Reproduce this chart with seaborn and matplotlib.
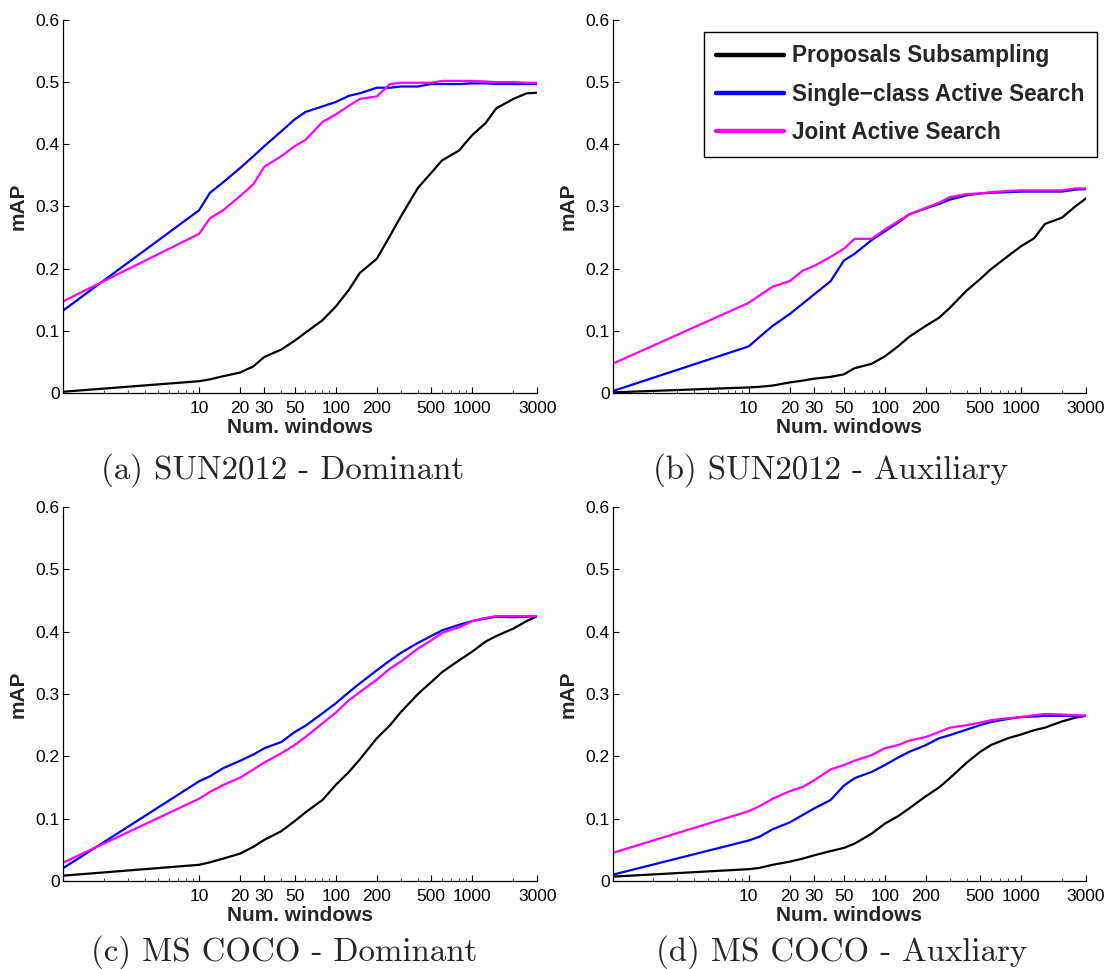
import numpy as np
import pandas as pd
import matplotlib
matplotlib.use("Agg")
import matplotlib.pyplot as plt
from matplotlib.ticker import FixedLocator, LogLocator, NullFormatter
import seaborn as sns

# ---------------- data ----------------
windows = [1, 10, 12, 15, 20, 25, 30, 40, 50, 60, 80, 100, 125, 150, 200, 250,
           300, 400, 500, 600, 800, 1000, 1250, 1500, 2000, 2500, 3000]

methods = ["Proposals Subsampling", "Single\u2212class Active Search", "Joint Active Search"]
colors = ["#000000", "#0000ff", "#ff00ff"]

# (a) SUN2012 - Dominant
a_prop = [0.002, 0.019, 0.022, 0.027, 0.033, 0.043, 0.058, 0.070, 0.084, 0.097, 0.117, 0.139, 0.166, 0.193,
          0.216, 0.253, 0.284, 0.330, 0.354, 0.374, 0.390, 0.415, 0.434, 0.458, 0.473, 0.482, 0.483]
a_single = [0.132, 0.294, 0.322, 0.339, 0.362, 0.381, 0.397, 0.421, 0.440, 0.452, 0.461, 0.468, 0.478, 0.482,
            0.491, 0.491, 0.493, 0.493, 0.497, 0.497, 0.497, 0.498, 0.498, 0.497, 0.497, 0.497, 0.497]
a_joint = [0.147, 0.256, 0.281, 0.294, 0.317, 0.336, 0.364, 0.381, 0.397, 0.407, 0.436, 0.448, 0.462, 0.473,
           0.477, 0.497, 0.499, 0.499, 0.499, 0.502, 0.502, 0.502, 0.501, 0.500, 0.500, 0.499, 0.499]

# (b) SUN2012 - Auxiliary
b_prop = [0.001, 0.009, 0.010, 0.012, 0.017, 0.020, 0.023, 0.026, 0.030, 0.040, 0.047, 0.059, 0.075, 0.090,
          0.108, 0.121, 0.137, 0.165, 0.183, 0.199, 0.220, 0.236, 0.249, 0.272, 0.282, 0.300, 0.313]
b_single = [0.003, 0.075, 0.090, 0.108, 0.127, 0.144, 0.158, 0.180, 0.213, 0.224, 0.246, 0.260, 0.274, 0.287,
            0.297, 0.304, 0.311, 0.318, 0.321, 0.322, 0.323, 0.324, 0.324, 0.324, 0.324, 0.327, 0.328]
b_joint = [0.047, 0.145, 0.157, 0.171, 0.180, 0.197, 0.204, 0.219, 0.232, 0.248, 0.248, 0.263, 0.276, 0.287,
           0.298, 0.306, 0.315, 0.320, 0.321, 0.323, 0.325, 0.326, 0.326, 0.326, 0.326, 0.329, 0.329]

# (c) MS COCO - Dominant
c_prop = [0.0085, 0.026, 0.030, 0.036, 0.044, 0.055, 0.066, 0.080, 0.096, 0.110, 0.130, 0.154, 0.175, 0.195,
          0.229, 0.250, 0.271, 0.300, 0.319, 0.335, 0.354, 0.368, 0.384, 0.393, 0.405, 0.417, 0.425]
c_single = [0.020, 0.160, 0.168, 0.181, 0.193, 0.203, 0.213, 0.223, 0.239, 0.249, 0.269, 0.285, 0.303, 0.317,
            0.338, 0.354, 0.366, 0.382, 0.393, 0.402, 0.411, 0.417, 0.421, 0.424, 0.423, 0.424, 0.425]
c_joint = [0.029, 0.132, 0.143, 0.154, 0.166, 0.179, 0.190, 0.205, 0.218, 0.231, 0.253, 0.270, 0.290, 0.303,
           0.323, 0.341, 0.352, 0.373, 0.386, 0.398, 0.407, 0.417, 0.422, 0.425, 0.425, 0.425, 0.425]

# (d) MS COCO - Auxliary
d_prop = [0.007, 0.019, 0.021, 0.026, 0.031, 0.036, 0.041, 0.048, 0.053, 0.060, 0.076, 0.092, 0.104, 0.116,
          0.136, 0.150, 0.165, 0.190, 0.207, 0.218, 0.229, 0.235, 0.242, 0.246, 0.256, 0.262, 0.265]
d_single = [0.010, 0.065, 0.071, 0.083, 0.094, 0.106, 0.116, 0.130, 0.153, 0.165, 0.175, 0.186, 0.198, 0.207,
            0.218, 0.229, 0.234, 0.243, 0.250, 0.255, 0.260, 0.263, 0.264, 0.265, 0.265, 0.265, 0.265]
d_joint = [0.045, 0.112, 0.120, 0.132, 0.144, 0.151, 0.161, 0.179, 0.186, 0.193, 0.202, 0.213, 0.218, 0.225,
           0.231, 0.239, 0.246, 0.250, 0.254, 0.258, 0.261, 0.263, 0.266, 0.268, 0.267, 0.266, 0.265]

captions = ["(a) SUN2012 - Dominant", "(b) SUN2012 - Auxiliary",
            "(c) MS COCO - Dominant", "(d) MS COCO - Auxliary"]

xtick_vals = [10, 20, 30, 50, 100, 200, 500, 1000, 3000]
xtick_labels = ["10", "20", "30", "50", "100", "200", "500", "1000", "3000"]
ytick_vals = [0, 0.1, 0.2, 0.3, 0.4, 0.5, 0.6]
ytick_labels = ["0", "0.1", "0.2", "0.3", "0.4", "0.5", "0.6"]

panels = [(a_prop, a_single, a_joint), (b_prop, b_single, b_joint),
          (c_prop, c_single, c_joint), (d_prop, d_single, d_joint)]

# ---------------- style ----------------
sns.set_style("ticks")
plt.rcParams["font.family"] = ["Liberation Sans", "DejaVu Sans"]
plt.rcParams["axes.unicode_minus"] = True

fig = plt.figure(figsize=(11.07, 9.69), dpi=100)

positions = [
    [0.0565, 0.5944, 0.4290, 0.3850],
    [0.5533, 0.5944, 0.4277, 0.3850],
    [0.0565, 0.0908, 0.4290, 0.3860],
    [0.5533, 0.0908, 0.4277, 0.3860],
]
cap_pos = [(0.2557, 0.515), (0.7507, 0.515), (0.2566, 0.0175), (0.7606, 0.0175)]

for i, (series, pos) in enumerate(zip(panels, positions)):
    ax = fig.add_axes(pos)
    frames = []
    for m, vals in zip(methods, series):
        frames.append(pd.DataFrame({"windows": windows, "mAP": vals, "method": m}))
    df = pd.concat(frames, ignore_index=True)
    sns.lineplot(data=df, x="windows", y="mAP", hue="method", hue_order=methods,
                 palette=dict(zip(methods, colors)), linewidth=1.6, errorbar=None,
                 legend=False, ax=ax)
    ax.set_xscale("log")
    ax.set_xlim(1, 3000)
    ax.set_ylim(0, 0.6)
    ax.xaxis.set_major_locator(FixedLocator(xtick_vals))
    ax.set_xticklabels(xtick_labels)
    ax.xaxis.set_minor_locator(LogLocator(base=10, subs=np.arange(2, 10), numticks=20))
    ax.xaxis.set_minor_formatter(NullFormatter())
    ax.yaxis.set_major_locator(FixedLocator(ytick_vals))
    ax.set_yticklabels(ytick_labels)
    ax.tick_params(axis="both", which="major", direction="in", length=4, width=0.8,
                   labelsize=12.5, colors="black")
    ax.tick_params(axis="x", which="major", pad=6)
    ax.tick_params(axis="y", which="major", pad=2)
    ax.tick_params(axis="x", which="minor", direction="in", length=2, width=0.6)
    for s in ["top", "right"]:
        ax.spines[s].set_visible(False)
    for s in ["left", "bottom"]:
        ax.spines[s].set_linewidth(0.9)
        ax.spines[s].set_color("black")
    ax.set_xlabel("Num. windows", fontsize=15, fontweight="bold", labelpad=1)
    ax.set_ylabel("mAP", fontsize=15, fontweight="bold", labelpad=6)

    if i == 1:
        leg = ax.legend(handles=ax.get_lines()[:3], labels=methods, loc="upper right",
                        bbox_to_anchor=(1.0233, 0.9678), borderaxespad=0.0, frameon=True,
                        fancybox=False, edgecolor="black", framealpha=1,
                        handlelength=3.0, handletextpad=0.35, labelspacing=0.68,
                        borderpad=0.55, prop={"weight": "bold", "size": 16.3})
        leg.get_frame().set_linewidth(1.0)
        for ln in leg.get_lines():
            ln.set_linewidth(3.2)

    fig.text(cap_pos[i][0], cap_pos[i][1], captions[i], ha="center", va="center",
             fontsize=23.7, family="cmr10")

fig.savefig("out.png", dpi=100)
